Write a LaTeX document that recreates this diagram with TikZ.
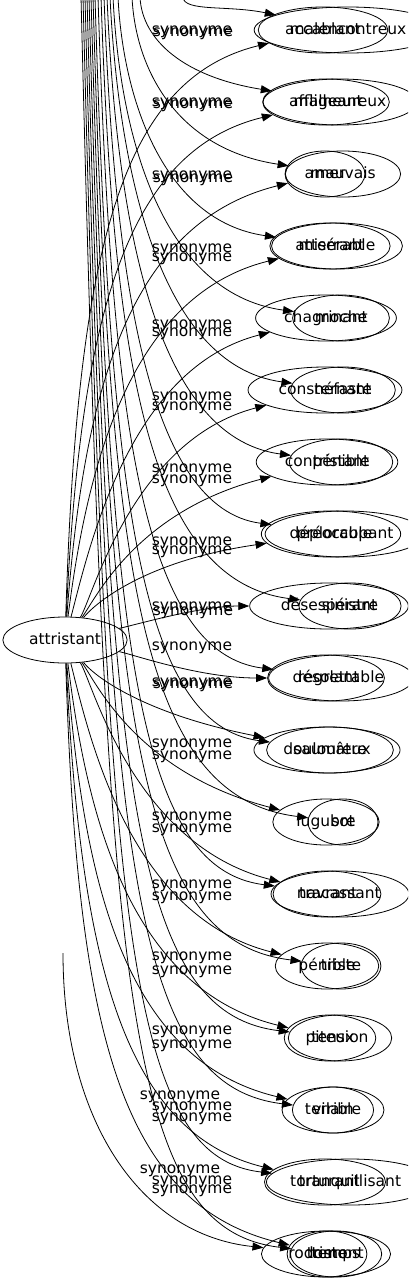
\documentclass[tikz,border=0pt]{standalone}
\usepackage{fontspec}
\setmainfont{DejaVu Sans}
\usetikzlibrary{shapes.geometric,arrows.meta}
\begin{document}
\begin{tikzpicture}[x=1pt,y=-1pt,
  word/.style={ellipse,draw,line width=0.8pt,inner xsep=8pt,inner ysep=0pt,
    minimum height=46pt,minimum width=70pt,text height=11.5pt,text depth=3.5pt,
    font=\fontsize{15.5}{18}\selectfont},
  lbl/.style={inner sep=0pt,font=\fontsize{15.5}{18}\selectfont},
  edge/.style={line width=0.8pt,-{Triangle[length=11pt,width=8pt]}}]
\useasboundingbox (0,0) rectangle (408,1283);
\clip (0,0) rectangle (408,1283);
\node[word] (src) at (65,640) {attristant};
\foreach \i/\aw/\ax/\bw/\bx in {
1/accablant/323/malencontreux/348,
2/affligeant/326/malheureux/340,
3/amer/325/mauvais/343,
4/atterrant/330/misérable/337,
5/chagrinant/326/moche/341,
6/consternant/325/néfaste/343,
7/contristant/327/pénible/341,
8/déplorable/331/préoccupant/345,
9/désespérant/329/sinistre/350,
10/désolant/326/regrettable/341,
11/douloureux/327/saumâtre/330,
12/lugubre/326/sot/343,
13/navrant/327/tracassant/340,
14/pénible/327/triste/341,
15/piteux/330/tension/340,
16/terrible/333/vilain/333,
17/torturant/325/tranquillisant/350,
18/triste/327/temps/336}{
  \pgfmathsetmacro{\yy}{30+72*(\i-1)}
  \node[word] (A\i) at (\ax,\yy) {\aw};
  \node[word] (B\i) at (\bx,\yy) {\bw};
}
\node[word] (C18) at (326,1254) {rodomont};
% edges from attristant
\foreach \i/\ca/\cb/\cc/\cd in {
1/77/260/117/80, 2/80/332/120/152, 3/83/404/123/224, 4/86/476/126/296,
5/89/548/129/368, 6/92/600/132/440, 7/95/600/135/512, 8/98/600/150/560,
9/135/625/200/606, 10/135/655/200/678,
11/98/680/150/715, 12/95/680/135/772, 13/92/680/132/844, 14/89/736/129/916,
15/86/808/126/988, 16/83/880/123/1060, 17/80/952/120/1132, 18/77/1024/117/1204}{
  \draw[edge] (src) .. controls (\ca,\cb) and (\cc,\cd) .. (A\i);
}
% edges from above
\foreach \i/\xo in {1/183,2/140,3/132,4/118,5/113,6/110,7/107,8/104,9/101,
  10/98,11/95,12/93,13/91,14/89,15/87,16/85,17/83,18/81}{
  \pgfmathsetmacro{\yy}{30+72*(\i-1)}
  \pgfmathsetmacro{\cy}{max(0.4*\yy,\yy-250)}
  \pgfmathsetmacro{\cx}{\xo+0.02*\yy}
  \pgfmathsetmacro{\dx}{\xo+45}
  \pgfmathsetmacro{\dy}{\yy-25}
  \coordinate (T\i) at (\xo,-3);
  \draw[edge] (T\i) .. controls (\cx,\cy) and (\dx,\dy) .. (B\i);
}
\coordinate (C0) at (63,953);
\draw[edge] (C0) .. controls (63,1120) and (140,1235) .. (C18);
% labels
\foreach \n/\x/\y in {
1/192/32, 2/193/34, 3/192/104, 4/193/106, 5/192/177, 6/193/180,
7/192/250, 8/192/259, 9/192/326, 10/192/334, 11/192/398, 12/192/408,
13/192/470, 14/192/481, 15/192/543, 16/192/552, 17/192/608, 18/193/613,
19/192/648, 20/192/684, 21/193/686, 22/192/745, 23/192/757,
24/192/818, 25/192/830, 26/192/886, 27/192/898, 28/192/958, 29/192/972,
30/192/1032, 31/192/1046, 32/180/1097, 33/192/1108, 34/192/1119,
35/180/1171, 36/192/1182, 37/192/1191}{
  \node[lbl] (L\n) at (\x,\y) {synonyme};
}
\end{tikzpicture}
\end{document}
